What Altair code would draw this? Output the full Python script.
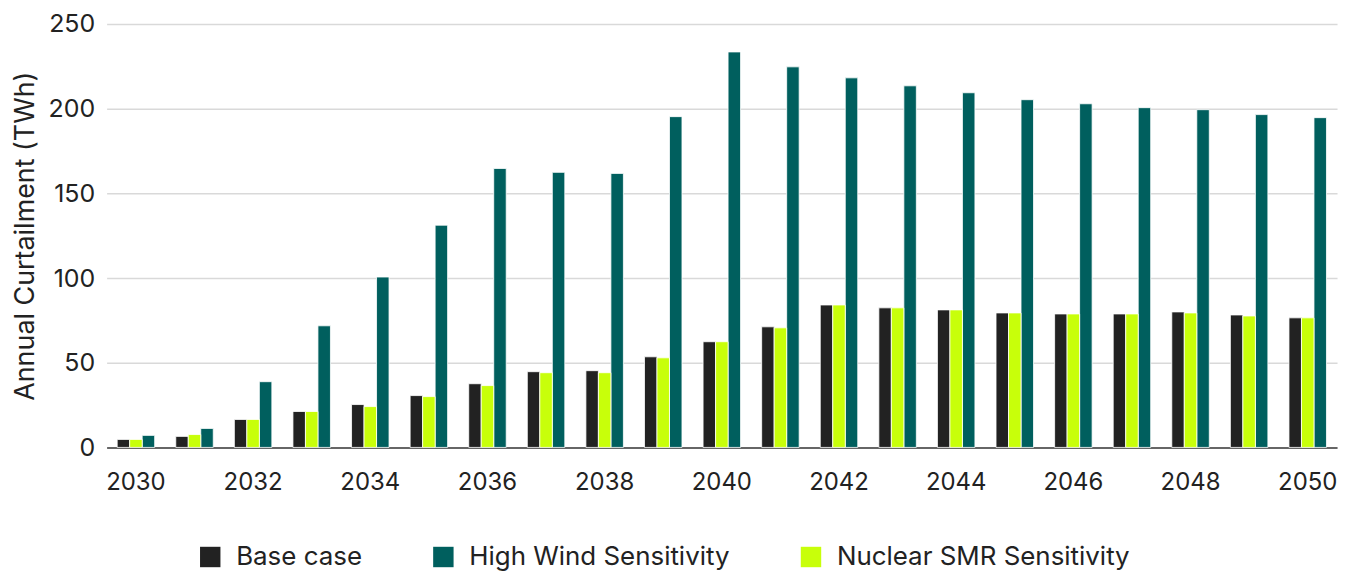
import altair as alt
import pandas as pd

years = list(range(2030, 2051))
base_case = [4.7, 6.5, 16.5, 21.2, 25.3, 30.6, 37.6, 44.7, 45.3, 53.5, 62.4, 71.2, 84.1, 82.4, 81.2, 79.4, 78.8, 78.8, 80.0, 78.2, 76.5]
high_wind = [7.1, 11.2, 38.8, 71.8, 100.6, 131.2, 164.7, 162.4, 161.8, 195.3, 233.5, 224.7, 218.2, 213.5, 209.4, 205.3, 202.9, 200.6, 199.4, 196.5, 194.7]
nuclear_smr = [4.7, 7.6, 16.5, 21.2, 24.1, 30.0, 36.5, 44.1, 44.1, 52.9, 62.4, 70.6, 84.1, 82.4, 81.2, 79.4, 78.8, 78.8, 79.4, 77.6, 76.5]

series_names = ["Base case", "High Wind Sensitivity", "Nuclear SMR Sensitivity"]
bar_order = ["Base case", "Nuclear SMR Sensitivity", "High Wind Sensitivity"]
colors = ["#222222", "#005F5E", "#C8FF0A"]
tick_years = list(range(2030, 2051, 2))

rows = []
for i, y in enumerate(years):
    rows.append({"year": y, "series": "Base case", "value": base_case[i]})
    rows.append({"year": y, "series": "High Wind Sensitivity", "value": high_wind[i]})
    rows.append({"year": y, "series": "Nuclear SMR Sensitivity", "value": nuclear_smr[i]})
df = pd.DataFrame(rows)

FONT = "Inter"

chart = alt.Chart(df).mark_bar(stroke="white", strokeWidth=0.8).encode(
    x=alt.X("year:O",
            scale=alt.Scale(paddingInner=0.36, paddingOuter=0.18),
            axis=alt.Axis(title=None, values=tick_years, labelAngle=0, ticks=False,
                          domainColor="#666666", domainWidth=2, labelPadding=23,
                          labelFontSize=24, labelColor="#222222", labelFont=FONT)),
    xOffset=alt.XOffset("series:N", sort=bar_order, scale=alt.Scale(paddingInner=0, paddingOuter=0)),
    y=alt.Y("value:Q",
            scale=alt.Scale(domain=[0, 250], nice=False),
            axis=alt.Axis(title="Annual Curtailment (TWh)", values=[0, 50, 100, 150, 200, 250],
                          ticks=False, domain=False, gridColor="#d9d9d9", gridWidth=1.5,
                          labelPadding=12, labelFontSize=25, labelColor="#222222", labelFont=FONT,
                          titleFontSize=27, titleFont=FONT, titleColor="#222222",
                          titleFontWeight="normal", titlePadding=9)),
    color=alt.Color("series:N",
                    scale=alt.Scale(domain=series_names, range=colors),
                    legend=alt.Legend(title=None, orient="none", direction="horizontal",
                                      legendX=91, legendY=97 + 425, symbolType="square",
                                      symbolSize=420, symbolStrokeWidth=0, labelFontSize=26,
                                      labelFont=FONT, labelColor="#222222", labelOffset=13,
                                      labelLimit=500, columnPadding=68)),
).properties(
    width=1235,
    height=425,
    padding={"left": 3, "top": 3, "right": 5, "bottom": 0},
).configure_view(stroke=None)

chart.save("out.html", embed_options={"renderer": "svg", "actions": False})
